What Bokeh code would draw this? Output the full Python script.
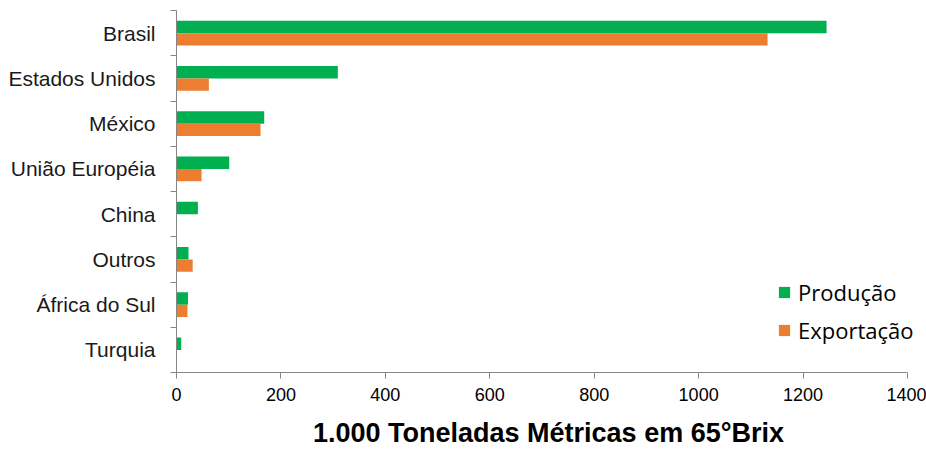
from bokeh.plotting import figure
from bokeh.models import Range1d, FixedTicker, ColumnDataSource, Legend, LegendItem
from bokeh.embed import file_html
from bokeh.resources import INLINE

# ---- data ----
paises = ["Brasil", "Estados Unidos", "México", "União Européia",
          "China", "Outros", "África do Sul", "Turquia"]
producao = [1245, 309, 168, 101, 41, 23, 22, 9]
exportacao = [1132, 62, 161, 48, 0, 31, 21, 0]
x_ticks = [0, 200, 400, 600, 800, 1000, 1200, 1400]
x_title = "1.000 Toneladas Métricas em 65°Brix"
serie_nomes = ["Produção", "Exportação"]

GREEN = "#00B050"
ORANGE = "#ED7D31"
AXIS = "#868686"

n = len(paises)
centers = [n - i - 0.5 for i in range(n)]
bar_h = 0.275
off = bar_h / 2

src = ColumnDataSource(dict(
    pais=paises,
    prod=producao,
    exp=exportacao,
    y_prod=[c + off for c in centers],
    y_exp=[c - off for c in centers],
))

# frame extends a little past 1400 so the legend is not clipped;
# the x axis itself is bounded to 0..1400
x_max = x_ticks[-1]
frame_w_axis = 731
frame_w = 744
p = figure(
    frame_width=frame_w, frame_height=362,
    min_border_left=176, min_border_right=6,
    min_border_top=10, min_border_bottom=76,
    x_range=Range1d(0, x_max * frame_w / frame_w_axis), y_range=Range1d(0, n),
    output_backend="svg", toolbar_location=None,
)
p.outline_line_color = None
p.xgrid.visible = False
p.ygrid.visible = False
p.background_fill_color = "white"
p.border_fill_color = "white"

r_prod = p.hbar(y="y_prod", left=0, right="prod", height=bar_h, source=src,
                fill_color=GREEN, line_color=None)
r_exp = p.hbar(y="y_exp", left=0, right="exp", height=bar_h, source=src,
               fill_color=ORANGE, line_color=None)

# x axis
xa = p.xaxis[0]
xa.bounds = (0, x_max)
xa.ticker = FixedTicker(ticks=x_ticks)
xa.axis_line_color = AXIS
xa.major_tick_line_color = AXIS
xa.major_tick_in = 0
xa.major_tick_out = 6
xa.minor_tick_line_color = None
xa.major_label_text_font = "Liberation Sans"
xa.major_label_text_font_size = "18px"
xa.major_label_text_color = "#000000"
xa.major_label_standoff = 9
xa.axis_label = x_title
xa.axis_label_text_font = "Liberation Sans"
xa.axis_label_text_font_style = "bold"
xa.axis_label_text_font_size = "27px"
xa.axis_label_text_color = "#000000"
xa.axis_label_standoff = 14

# y axis: labels at band centers, ticks at band boundaries
ya = p.yaxis[0]
ya.ticker = FixedTicker(ticks=centers, minor_ticks=list(range(n + 1)))
ya.major_label_overrides = {c: name for c, name in zip(centers, paises)}
ya.axis_line_color = AXIS
ya.major_tick_line_color = None
ya.major_tick_in = 0
ya.major_tick_out = 0
ya.minor_tick_line_color = AXIS
ya.minor_tick_in = 0
ya.minor_tick_out = 6
ya.major_label_standoff = 15
ya.major_label_text_font = "Liberation Sans"
ya.major_label_text_font_size = "21px"
ya.major_label_text_color = "#1a1a1a"

legend = Legend(
    items=[LegendItem(label=serie_nomes[0], renderers=[r_prod]),
           LegendItem(label=serie_nomes[1], renderers=[r_exp])],
    location=(601, 27),
    border_line_color=None, background_fill_alpha=0,
    padding=0, margin=0, spacing=8,
    glyph_width=14, glyph_height=14, label_standoff=7, label_height=26,
    label_text_font="Open Sans", label_text_font_size="22px",
    label_text_color="#000000",
)
p.add_layout(legend, "center")

open("out.html", "w").write(file_html(p, INLINE))
